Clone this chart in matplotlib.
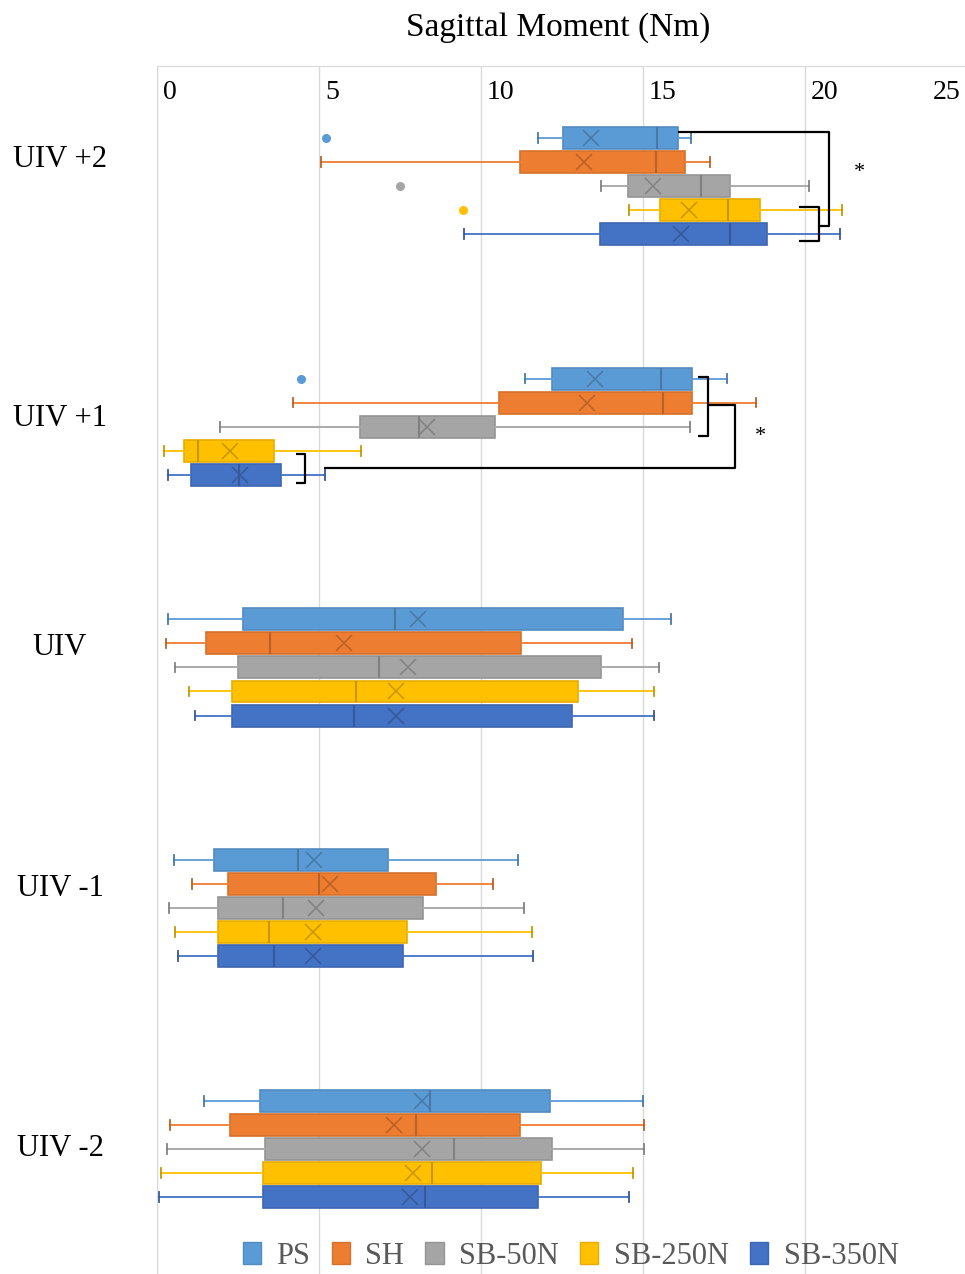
import matplotlib
matplotlib.use("Agg")
import matplotlib.pyplot as plt
import matplotlib.colors as mcolors
from matplotlib.patches import Patch
from matplotlib.transforms import offset_copy
import numpy as np

plt.rcParams['font.family'] = ['Liberation Serif', 'DejaVu Serif']

categories = ["UIV +2", "UIV +1", "UIV", "UIV -1", "UIV -2"]
series = ["PS", "SH", "SB-50N", "SB-250N", "SB-350N"]
colors = ["#5B9BD5", "#ED7D31", "#A5A5A5", "#FFC000", "#4472C4"]

# per series, one value per category (UIV +2 ... UIV -2)
whislo = {
    "PS": [11.76, 11.36, 0.33, 0.54, 1.45],
    "SH": [5.06, 4.20, 0.27, 1.07, 0.41],
    "SB-50N": [13.69, 1.95, 0.56, 0.37, 0.32],
    "SB-250N": [14.57, 0.22, 1.00, 0.56, 0.11],
    "SB-350N": [9.49, 0.35, 1.16, 0.64, 0.05],
}
q1 = {
    "PS": [12.52, 12.20, 2.66, 1.76, 3.17],
    "SH": [11.20, 10.56, 1.50, 2.18, 2.24],
    "SB-50N": [14.55, 6.25, 2.49, 1.89, 3.34],
    "SB-250N": [15.54, 0.83, 2.30, 1.89, 3.27],
    "SB-350N": [13.67, 1.06, 2.32, 1.89, 3.27],
}
med = {
    "PS": [15.43, 15.57, 7.35, 4.34, 8.42],
    "SH": [15.40, 15.62, 3.50, 5.00, 8.00],
    "SB-50N": [16.79, 8.08, 6.85, 3.88, 9.18],
    "SB-250N": [17.62, 1.27, 6.13, 3.47, 8.49],
    "SB-350N": [17.67, 2.54, 6.08, 3.60, 8.27],
}
q3 = {
    "PS": [16.07, 16.51, 14.37, 7.12, 12.12],
    "SH": [16.31, 16.51, 11.23, 8.62, 11.19],
    "SB-50N": [17.68, 10.42, 13.70, 8.21, 12.19],
    "SB-250N": [18.61, 3.62, 13.00, 7.71, 11.85],
    "SB-350N": [18.83, 3.82, 12.80, 7.59, 11.76],
}
whishi = {
    "PS": [16.47, 17.58, 15.86, 11.14, 15.00],
    "SH": [17.08, 18.50, 14.65, 10.37, 15.03],
    "SB-50N": [20.11, 16.44, 15.48, 11.34, 15.03],
    "SB-250N": [21.13, 6.29, 15.34, 11.57, 14.70],
    "SB-350N": [21.07, 5.20, 15.33, 11.60, 14.57],
}
means = {
    "PS": [13.39, 13.52, 8.05, 4.85, 8.18],
    "SH": [13.19, 13.26, 5.76, 5.33, 7.30],
    "SB-50N": [15.30, 8.34, 7.75, 4.92, 8.18],
    "SB-250N": [16.41, 2.24, 7.38, 4.80, 7.89],
    "SB-350N": [16.17, 2.57, 7.37, 4.81, 7.81],
}
fliers = {
    "PS": [[5.22], [4.44], [], [], []],
    "SH": [[], [], [], [], []],
    "SB-50N": [[7.49], [], [], [], []],
    "SB-250N": [[9.44], [], [], [], []],
    "SB-350N": [[], [], [], [], []],
}

xticks = [0, 5, 10, 15, 20, 25]
label_y = [-0.108, 0.964, 1.919, 2.917, 3.997]

W, H = 965, 1274
fig = plt.figure(figsize=(W / 100, H / 100), dpi=100)
ax = fig.add_axes([157 / W, 0, 808 / W, (H - 66) / H])


def darker(c, f=0.78):
    r, g, b = mcolors.to_rgb(c)
    return (r * f, g * f, b * f)


step = 0.1
for i, (s, c) in enumerate(zip(series, colors)):
    stats = []
    for j in range(len(categories)):
        stats.append(dict(whislo=whislo[s][j], q1=q1[s][j], med=med[s][j], q3=q3[s][j],
                          whishi=whishi[s][j], mean=means[s][j], fliers=np.array(fliers[s][j])))
    pos = np.arange(len(categories)) + (i - 2) * step
    dc = darker(c)
    ax.bxp(stats, positions=pos, widths=0.091, orientation='horizontal', patch_artist=True,
           showmeans=True, manage_ticks=False, capwidths=0.04,
           boxprops=dict(facecolor=c, edgecolor=darker(c, 0.9), linewidth=1.2),
           medianprops=dict(color=dc, linewidth=1.5),
           whiskerprops=dict(color=c, linewidth=1.3),
           capprops=dict(color=dc, linewidth=1.3),
           meanprops=dict(marker='x', markeredgecolor=dc, markersize=11, markeredgewidth=1.1),
           flierprops=dict(marker='o', markerfacecolor=c, markeredgecolor=c, markersize=5.5))

# significance brackets
k = dict(color='black', lw=1.6, solid_capstyle='butt', zorder=5)
ax.plot([q3["PS"][0], 20.74, 20.74, 20.43], [-0.225, -0.225, 0.166, 0.166], **k)
ax.plot([19.81, 20.43, 20.43, 19.81], [0.087, 0.087, 0.228, 0.228], **k)
ax.text(21.67, -0.055, "*", fontsize=16, ha='center', va='center')
ax.plot([16.7, 17.0, 17.0, 16.7], [0.792, 0.792, 1.037, 1.037], **k)
ax.plot([17.0, 17.84, 17.84, 5.15], [0.909, 0.909, 1.170, 1.170], **k)
ax.plot([4.29, 4.57, 4.57, 4.29], [1.112, 1.112, 1.233, 1.233], **k)
ax.text(18.64, 1.04, "*", fontsize=16, ha='center', va='center')

ax.set_xlim(0, 808 / 32.4)
ax.set_ylim(4.52, -0.4985)
ax.set_xticks(xticks[:-1])
ax.set_xticklabels([])
ax.set_yticks([])
ax.tick_params(length=0)
ax.grid(axis='x', color='#D9D9D9', lw=1)
ax.set_axisbelow(True)
for side in ['right', 'bottom']:
    ax.spines[side].set_visible(False)
for side in ['left', 'top']:
    ax.spines[side].set_color('#D9D9D9')

for t in xticks:
    if t == 25:
        tr = offset_copy(ax.transData, fig=fig, x=-7, y=0, units='dots')
        ax.text(t, -0.39, str(t), transform=tr, ha='right', va='center', fontsize=20)
    else:
        tr = offset_copy(ax.transData, fig=fig, x=6, y=0, units='dots')
        ax.text(t, -0.39, str(t), transform=tr, ha='left', va='center', fontsize=20)

for lab, y in zip(categories, label_y):
    ax.text(-0.12, y, lab, transform=ax.get_yaxis_transform(), ha='center', va='center',
            fontsize=22)

fig.text(558 / W, 1 - 28 / H, "Sagittal Moment (Nm)", ha='center', va='center', fontsize=24)

handles = [Patch(facecolor=c, edgecolor=darker(c, 0.9)) for c in colors]
leg = ax.legend(handles, series, loc='lower center', bbox_to_anchor=(0.512, 0.0), ncol=5,
                frameon=False, fontsize=22, handlelength=0.6, handleheight=0.75,
                handletextpad=0.5, columnspacing=0.7, borderaxespad=0.0, borderpad=0.1)
for t in leg.get_texts():
    t.set_color('#595959')

fig.savefig("out.png", dpi=100)
